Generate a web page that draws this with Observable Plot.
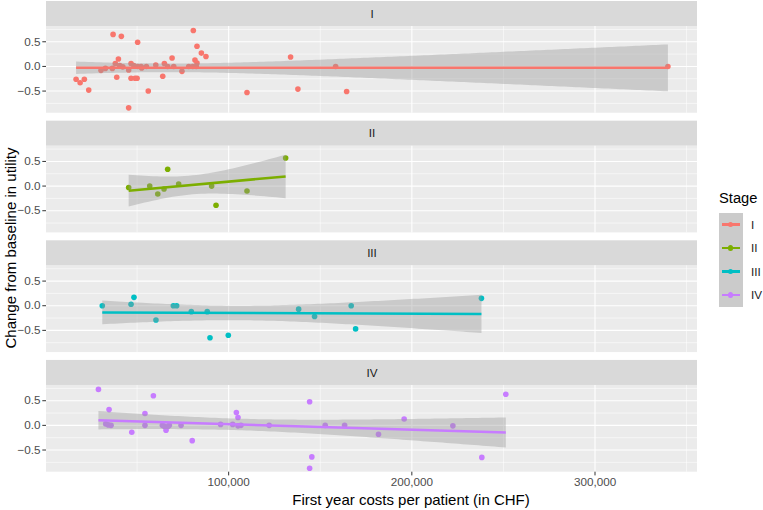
<!DOCTYPE html>
<html>
<head>
<meta charset="utf-8">
<script src="https://cdn.jsdelivr.net/npm/d3@7"></script>
<script src="https://cdn.jsdelivr.net/npm/@observablehq/plot@0.6"></script>
<style>
  body { margin: 0; background: #fff; font-family: "Liberation Sans", Arial, Helvetica, sans-serif; }
  #wrap { position: relative; width: 763px; height: 510px; overflow: hidden; }
  #wrap svg { display: block; }
  .axis-title { position: absolute; font-size: 15px; color: #000; white-space: nowrap; transform: translate(-50%, -50%); }
  .axis-title.y { transform: translate(-50%, -50%) rotate(-90deg); }
  .legend { position: absolute; left: 719px; top: 190px; font-size: 11.7px; color: #1A1A1A; }
  .legend .title { font-size: 14.7px; color: #000; height: 22.7px; line-height: 17px; }
  .legend .row { display: flex; align-items: center; height: 23.5px; }
  .legend .key { width: 23.5px; height: 23.5px; background: #CBCBCB; position: relative; }
  .legend .key .ln { position: absolute; left: 3px; right: 3px; top: 10.5px; height: 2.5px; }
  .legend .key .pt { position: absolute; left: 9.05px; top: 9.05px; width: 5.4px; height: 5.4px; border-radius: 50%; }
  .legend .lab { margin-left: 8.5px; }
</style>
</head>
<body>
<div id="wrap"></div>
<script>
// Cancer stage of each patient group and its colour
const stages = ["I", "II", "III", "IV"];
const stageColors = ["#F8766D", "#7CAE00", "#00BFC4", "#C77CFF"];

// First year costs per patient (CHF) and change from baseline in utility, by stage
const costI = [16700, 18900, 21200, 23600, 30300, 32700, 36900, 36500, 38100, 38900, 39800, 40500, 41400, 42200,
  45400, 45400, 46700, 46700, 48200, 48900, 50000, 50300, 50300, 52200, 52500, 55100, 56100, 60200, 64000, 64900,
  66700, 69100, 70000, 74500, 78200, 80700, 80400, 81600, 82700, 82700, 82300, 85100, 87600, 110000, 133800,
  137800, 158400, 164400, 339800];
const changeI = [-0.26, -0.33, -0.26, -0.48, -0.08, -0.04, 0.65, -0.04, 0.06, -0.22, 0.15, 0.02, 0.61, -0.01,
  -0.07, -0.84, 0.06, -0.24, 0.02, -0.24, -0.24, 0.49, 0.0, 0.0, -0.03, 0.0, -0.50, 0.03, -0.20, 0.06,
  0.0, 0.17, 0.0, -0.10, 0.0, 0.73, 0.0, 0.13, 0.41, 0.07, 0.0, 0.27, 0.20, -0.53, 0.19,
  -0.46, 0.0, -0.51, 0.0];

const costII = [45400, 56900, 61300, 64700, 66700, 72700, 90700, 93100, 110000, 131100];
const changeII = [-0.03, 0.0, -0.16, -0.06, 0.34, 0.04, 0.0, -0.39, -0.10, 0.57];

const costIII = [31000, 46700, 48300, 60300, 69800, 71600, 79600, 88300, 89800, 99800, 138200, 146900, 166900, 169300, 238000];
const changeIII = [0.0, 0.03, 0.17, -0.29, 0.0, 0.0, -0.12, -0.12, -0.65, -0.60, -0.07, -0.22, 0.0, -0.47, 0.15];

const costIV = [28900, 32900, 34700, 34300, 35800, 47100, 54300, 54300, 58900, 63800, 64900, 65800, 66700, 67600,
  74000, 80100, 95600, 102200, 104200, 105100, 105100, 106700, 122100, 144200, 145400, 144200, 152700, 163300,
  181800, 195800, 222400, 238200, 251300];
const changeIV = [0.73, 0.03, 0.32, 0.01, 0.0, -0.14, 0.24, 0.0, 0.60, 0.0, -0.02, -0.10, -0.03, 0.0,
  0.0, -0.31, 0.02, 0.02, 0.26, 0.16, -0.01, 0.0, 0.0, 0.48, -0.64, -0.87, 0.0, 0.0,
  -0.18, 0.13, -0.01, -0.65, 0.63];

// Axis ticks and grid positions
const xMajor = [100000, 200000, 300000];
const xMinor = [50000, 150000, 250000, 350000];
const yMajor = [-0.5, 0, 0.5];
const yMinor = [-0.75, -0.25, 0.25, 0.75];

const xTitle = "First year costs per patient (in CHF)";
const yTitle = "Change from baseline in utility";
const legendTitle = "Stage";

// Long table of all patients
const costs = [costI, costII, costIII, costIV];
const changes = [changeI, changeII, changeIII, changeIV];
const rows = [];
stages.forEach((s, i) => costs[i].forEach((c, j) => rows.push({stage: s, cost: c, change: changes[i][j]})));
const strips = stages.map((s) => ({stage: s}));

// Shared scales, expanded by 5% of the data range on both sides
const [xMin, xMax] = d3.extent(rows, (d) => d.cost);
const xLo = xMin - 0.05 * (xMax - xMin), xHi = xMax + 0.05 * (xMax - xMin);
const [yMin, yMax] = d3.extent(rows, (d) => d.change);
const yLo = yMin - 0.05 * (yMax - yMin), yHi = yMax + 0.05 * (yMax - yMin);

// Each facet band holds a strip header above the panel
const W = 763, H = 510;
const mTop = 1, mBottom = 38.3, mLeft = 46, mRight = 66;
const gapRatio = 0.066;
const band = (H - mTop - mBottom) / (stages.length - gapRatio) * (1 - gapRatio);
const stripH = 25;
const yTop = yHi + (yHi - yLo) * stripH / (band - stripH);

const chart = Plot.plot({
  width: W,
  height: H,
  marginTop: mTop,
  marginBottom: mBottom,
  marginLeft: mLeft,
  marginRight: mRight,
  style: {fontFamily: '"Liberation Sans", Arial, Helvetica, sans-serif', fontSize: "11.7px", color: "#4D4D4D", background: "white"},
  x: {domain: [xLo, xHi]},
  y: {domain: [yLo, yTop]},
  fy: {domain: stages, paddingInner: gapRatio, paddingOuter: 0, round: false, axis: null, label: null},
  color: {domain: stages, range: stageColors},
  marks: [
    // panel background and strip header
    Plot.rect(strips, {fy: "stage", x1: xLo, x2: xHi, y1: yLo, y2: yHi, fill: "#EBEBEB"}),
    Plot.rect(strips, {fy: "stage", x1: xLo, x2: xHi, y1: yHi, y2: yTop, fill: "#D9D9D9"}),
    // grid
    Plot.ruleY(yMinor, {stroke: "white", strokeWidth: 0.55}),
    Plot.ruleX(xMinor, {y1: yLo, y2: yHi, stroke: "white", strokeWidth: 0.55}),
    Plot.ruleY(yMajor, {stroke: "white", strokeWidth: 1.1}),
    Plot.ruleX(xMajor, {y1: yLo, y2: yHi, stroke: "white", strokeWidth: 1.1}),
    // patients
    Plot.dot(rows, {fy: "stage", x: "cost", y: "change", fill: "stage", r: 2.8}),
    // linear fit with 95% confidence band
    Plot.linearRegressionY(rows, {
      fy: "stage", x: "cost", y: "change", stroke: "stage",
      fill: "#999999", fillOpacity: 0.4, strokeWidth: 2.5, strokeLinecap: "butt", ci: 0.95
    }),
    // strip labels
    Plot.text(strips, {fy: "stage", text: "stage", x: (xLo + xHi) / 2, y: (yHi + yTop) / 2, fill: "#1A1A1A", fontSize: 11.7}),
    // axes
    Plot.axisY(yMajor, {tickSize: 3.7, tickPadding: 2.2, tickFormat: d3.format(".1f"), stroke: "#333333", fill: "#4D4D4D", label: null, fontSize: 11.7}),
    Plot.axisX(xMajor, {tickSize: 3.7, tickPadding: 2.2, tickFormat: d3.format(","), stroke: "#333333", fill: "#4D4D4D", label: null, fontSize: 11.7})
  ]
});

const wrap = document.getElementById("wrap");
wrap.appendChild(chart);

// axis titles
const xt = document.createElement("div");
xt.className = "axis-title";
xt.textContent = xTitle;
xt.style.left = "411px";
xt.style.top = "499px";
wrap.appendChild(xt);

const yt = document.createElement("div");
yt.className = "axis-title y";
yt.textContent = yTitle;
yt.style.left = "10px";
yt.style.top = "248px";
wrap.appendChild(yt);

// legend
const lg = document.createElement("div");
lg.className = "legend";
const lt = document.createElement("div");
lt.className = "title";
lt.textContent = legendTitle;
lg.appendChild(lt);
stages.forEach((s, i) => {
  const row = document.createElement("div");
  row.className = "row";
  const key = document.createElement("div");
  key.className = "key";
  const ln = document.createElement("div");
  ln.className = "ln";
  ln.style.background = stageColors[i];
  const pt = document.createElement("div");
  pt.className = "pt";
  pt.style.background = stageColors[i];
  key.appendChild(ln);
  key.appendChild(pt);
  const lab = document.createElement("div");
  lab.className = "lab";
  lab.textContent = s;
  row.appendChild(key);
  row.appendChild(lab);
  lg.appendChild(row);
});
wrap.appendChild(lg);
</script>
</body>
</html>
